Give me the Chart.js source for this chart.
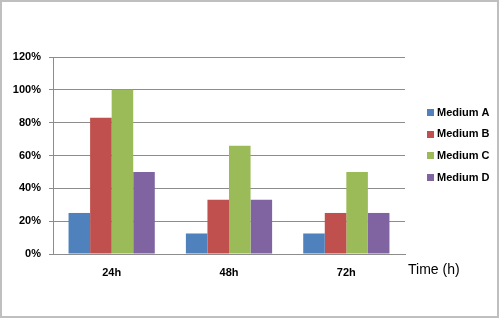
<!DOCTYPE html>
<html>
<head>
<meta charset="utf-8">
<script src="https://cdn.jsdelivr.net/npm/chart.js@4"></script>
<style>
html,body{margin:0;padding:0;background:#fff;}
#wrap{width:500px;height:319px;position:relative;}
</style>
</head>
<body>
<div id="wrap"><canvas id="c" width="500" height="319"></canvas></div>
<script>
const categories = ['24h', '48h', '72h'];
const seriesNames = ['Medium A', 'Medium B', 'Medium C', 'Medium D'];
const mediumA = [0.25, 0.125, 0.125];
const mediumB = [0.83, 0.33, 0.25];
const mediumC = [1.00, 0.66, 0.50];
const mediumD = [0.50, 0.33, 0.25];
const colors = ['#4F81BD', '#C0504D', '#9BBB59', '#8064A2'];
const axisTitle = 'Time (h)';

const FONT = "'Liberation Sans', Arial, sans-serif";

const extras = {
  id: 'extras',
  afterDraw(chart) {
    const ctx = chart.ctx;
    ctx.save();
    // outer border
    ctx.strokeStyle = '#BFBFBF';
    ctx.lineWidth = 2;
    ctx.strokeRect(1, 1, 497, 316);
    // legend
    const area = chart.chartArea;
    ctx.font = 'bold 11px ' + FONT;
    ctx.textBaseline = 'middle';
    ctx.textAlign = 'left';
    chart.data.datasets.forEach((ds, i) => {
      const y = 112 + i * 21.7;
      ctx.fillStyle = ds.backgroundColor;
      ctx.fillRect(427, Math.round(y) - 3, 7, 7);
      ctx.fillStyle = '#000';
      ctx.fillText(ds.label, 437, y + 0.5);
    });
    // axis title
    ctx.font = '14px ' + FONT;
    ctx.fillStyle = '#000';
    ctx.fillText(axisTitle, 408, 270);
    ctx.restore();
  }
};

const datasetsData = [mediumA, mediumB, mediumC, mediumD];
new Chart(document.getElementById('c'), {
  type: 'bar',
  data: {
    labels: categories,
    datasets: datasetsData.map((d, i) => ({
      label: seriesNames[i],
      data: d,
      backgroundColor: colors[i],
      borderWidth: 0,
      categoryPercentage: 0.735,
      barPercentage: 1.0
    }))
  },
  options: {
    responsive: false,
    animation: false,
    layout: { padding: { top: 57, right: 95, bottom: 35, left: 0 } },
    plugins: { legend: { display: false }, tooltip: { enabled: false } },
    scales: {
      x: {
        grid: { display: false, drawTicks: false },
        border: { display: true, color: '#8C8C8C', width: 1 },
        ticks: { font: { family: FONT, size: 11, weight: 'bold' }, color: '#000', padding: 12 },
        afterFit(scale) { scale.height = 30; }
      },
      y: {
        min: 0, max: 1.2,
        grid: { color: '#8C8C8C', tickLength: 4, lineWidth: 1 },
        border: { display: true, color: '#8C8C8C', width: 1 },
        ticks: {
          stepSize: 0.2,
          font: { family: FONT, size: 11, weight: 'bold' },
          color: '#000',
          padding: 8,
          callback: v => Math.round(v * 100) + '%'
        },
        afterFit(scale) { scale.width = 53; }
      }
    }
  },
  plugins: [extras]
});
</script>
</body>
</html>
